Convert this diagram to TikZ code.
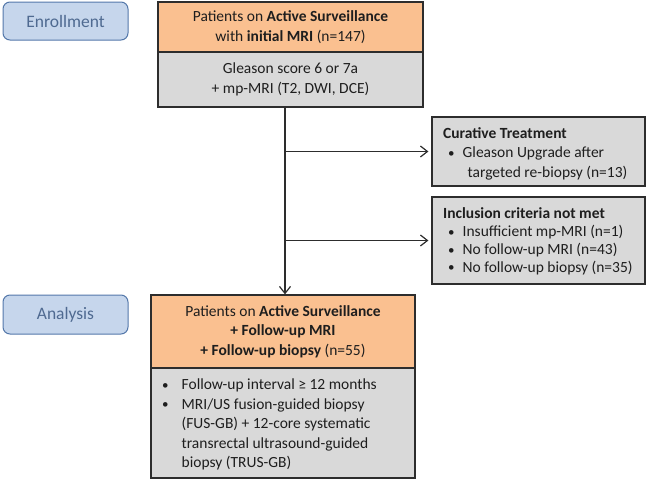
\documentclass[tikz,border=0pt]{standalone}
\usepackage{fontspec}
\setmainfont{Carlito}
\usetikzlibrary{arrows.meta}
\definecolor{orng}{RGB}{250,192,144}
\definecolor{gry}{RGB}{217,217,217}
\definecolor{bluefill}{RGB}{198,214,236}
\definecolor{blueline}{RGB}{84,120,170}
\definecolor{bluetext}{RGB}{79,106,145}
\definecolor{edge}{RGB}{45,45,45}
\definecolor{txt}{RGB}{30,30,30}
\newcommand{\bul}{\raisebox{0.5pt}{\fontsize{13}{13}\selectfont\textbullet}}
\begin{document}
\begin{tikzpicture}[x=1pt,y=-1pt,
  every node/.style={font=\fontsize{15.5}{19.5}\selectfont, text=txt},
  stage/.style={draw=blueline, fill=bluefill, line width=1pt, rounded corners=7pt,
    minimum width=125pt, minimum height=38pt, inner sep=0pt, text=bluetext,
    font=\fontsize{17.5}{20}\selectfont},
  obox/.style={draw=edge, fill=orng, line width=1.2pt, inner sep=0pt, align=center},
  gbox/.style={draw=edge, fill=gry, line width=1.2pt, inner sep=0pt, align=center},
  plain/.style={inner sep=0pt, align=left},
  conn/.style={draw=edge, line width=1.2pt, -{Straight Barb[length=7pt,width=11pt]}},
  ]
\useasboundingbox (0,0) rectangle (649,479);

\node[stage] (enr) at (65.5,21) {Enrollment};
\node[stage, minimum height=39pt] (ana) at (65.5,314.5) {Analysis};

\node[obox, minimum width=265pt, minimum height=50pt] (top) at (290.5,27)
  {Patients on \textbf{Active Surveillance}\\with \textbf{initial MRI} (n=147)};
\node[gbox, minimum width=265pt, minimum height=55pt] (crit) at (290.5,79.5)
  {Gleason score 6 or 7a\\+ mp-MRI (T2, DWI, DCE)};

\node[gbox, minimum width=213pt, minimum height=69pt] (cur) at (538.5,151.5) {};
\node[plain, anchor=west] (curtxt) at (443,154)
  {\begin{tabular}{@{}l@{\hspace{8pt}}l@{}}
   \multicolumn{2}{@{}l@{}}{\textbf{Curative Treatment}}\\
   \hspace{5pt}\bul & Gleason Upgrade after\\
   & \hspace{5pt}targeted re-biopsy (n=13)
   \end{tabular}};

\node[gbox, minimum width=213pt, minimum height=87pt] (inc) at (538.5,240.5) {};
\node[plain, anchor=west] (inctxt) at (443,242)
  {\renewcommand{\arraystretch}{0.92}%
   \begin{tabular}{@{}l@{\hspace{8pt}}l@{}}
   \multicolumn{2}{@{}l@{}}{\textbf{Inclusion criteria not met}}\\
   \hspace{5pt}\bul & Insufficient mp-MRI (n=1)\\
   \hspace{5pt}\bul & No follow-up MRI (n=43)\\
   \hspace{5pt}\bul & No follow-up biopsy (n=35)
   \end{tabular}};

\node[obox, minimum width=264pt, minimum height=73pt] (fin) at (283,331.5)
  {Patients on \textbf{Active Surveillance}\\\textbf{+ Follow-up MRI}\\\textbf{+ Follow-up biopsy} (n=55)};
\node[gbox, minimum width=264pt, minimum height=110pt] (meth) at (283,423) {};
\node[plain, anchor=west] (methtxt) at (162,425)
  {\begin{tabular}{@{}l@{\hspace{13pt}}l@{}}
   \bul & Follow-up interval ≥ 12 months\\
   \bul & MRI/US fusion-guided biopsy\\
   & (FUS-GB) + 12-core systematic\\
   & transrectal ultrasound-guided\\
   & biopsy (TRUS-GB)
   \end{tabular}};

\coordinate (vx) at (285,0);
\draw[conn] (crit.south -| vx) -- (fin.north -| vx);
\draw[conn, shorten >=3pt] (vx |- cur.west) -- (cur.west);
\draw[conn, shorten >=3pt] (vx |- inc.west) -- (inc.west);
\end{tikzpicture}
\end{document}
